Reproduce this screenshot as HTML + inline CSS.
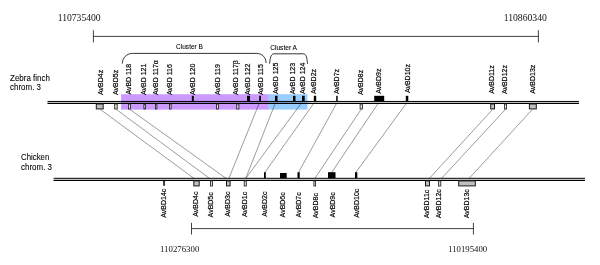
<!DOCTYPE html>
<html><head><meta charset="utf-8"><title>Figure</title>
<style>
html,body{margin:0;padding:0;background:#fff;}
svg{display:block}
.s{font-family:"Liberation Sans",Arial,sans-serif;fill:#000;stroke:#000;stroke-width:0.18}
.h{font-family:"Liberation Sans",Arial,sans-serif;fill:#000;stroke:#000;stroke-width:0.07}
.n{font-family:"Liberation Serif","Times New Roman",serif;fill:#111}
</style></head><body>
<svg width="600" height="265" viewBox="0 0 600 265">
<rect width="600" height="265" fill="#fff"/>

<rect x="121.1" y="94.2" width="147.7" height="15.4" fill="#cc99ff"/>
<rect x="268.7" y="94.2" width="38.8" height="15.4" fill="#99ccff"/>
<line x1="100.4" y1="109.5" x2="194.2" y2="178.5" stroke="#222" stroke-width="0.45"/>
<line x1="116.4" y1="109.5" x2="209.7" y2="178.5" stroke="#222" stroke-width="0.45"/>
<line x1="130.0" y1="109.5" x2="226.3" y2="178.5" stroke="#222" stroke-width="0.45"/>
<line x1="259.3" y1="103" x2="228.8" y2="178.5" stroke="#222" stroke-width="0.45"/>
<line x1="275.3" y1="103" x2="245.7" y2="178.5" stroke="#222" stroke-width="0.45"/>
<line x1="301.4" y1="103" x2="245.7" y2="178.5" stroke="#222" stroke-width="0.45"/>
<line x1="314.0" y1="103" x2="265.0" y2="172.3" stroke="#222" stroke-width="0.45"/>
<line x1="336.8" y1="103" x2="298.6" y2="172.3" stroke="#222" stroke-width="0.45"/>
<line x1="361" y1="109.5" x2="314.8" y2="178.5" stroke="#222" stroke-width="0.45"/>
<line x1="378.4" y1="103" x2="331.8" y2="172.3" stroke="#222" stroke-width="0.45"/>
<line x1="406.6" y1="103" x2="355.9" y2="172.3" stroke="#222" stroke-width="0.45"/>
<line x1="492.5" y1="109.5" x2="429.3" y2="178.5" stroke="#222" stroke-width="0.45"/>
<line x1="505.3" y1="109.5" x2="441.5" y2="178.5" stroke="#222" stroke-width="0.45"/>
<line x1="532.3" y1="109.5" x2="469.0" y2="178.5" stroke="#222" stroke-width="0.45"/>
<line x1="47.5" y1="101.45" x2="579" y2="101.45" stroke="#000" stroke-width="1"/>
<line x1="47.5" y1="103.3" x2="579" y2="103.3" stroke="#000" stroke-width="1.15"/>
<line x1="53.6" y1="178.3" x2="585" y2="178.3" stroke="#000" stroke-width="1"/>
<line x1="53.6" y1="180.3" x2="585" y2="180.3" stroke="#000" stroke-width="1.15"/>
<rect x="96.30" y="104.0" width="6.90" height="4.90" fill="#c0c0c0" stroke="#1a1a1a" stroke-width="1.0"/>
<text class="s" font-size="7" transform="translate(102.95,95) rotate(-90) scale(1,1.06)">AvBD4z</text>
<rect x="114.70" y="104.0" width="2.50" height="5.00" fill="#dcdcdc" stroke="#1a1a1a" stroke-width="0.8"/>
<text class="s" font-size="7" transform="translate(118.45,95) rotate(-90) scale(1,1.06)">AvBD5z</text>
<rect x="128.40" y="104.0" width="2.00" height="5.00" fill="#dcdcdc" stroke="#1a1a1a" stroke-width="0.8"/>
<text class="s" font-size="7" transform="translate(130.75,94.6) rotate(-90) scale(1,1.06)">AvBD 118</text>
<rect x="143.90" y="104.0" width="1.70" height="5.00" fill="#dcdcdc" stroke="#1a1a1a" stroke-width="0.8"/>
<text class="s" font-size="7" transform="translate(146.05,95) rotate(-90) scale(1,1.06)">AvBD 121</text>
<rect x="155.40" y="104.0" width="1.50" height="5.00" fill="#dcdcdc" stroke="#1a1a1a" stroke-width="0.8"/>
<text class="s" font-size="7" transform="translate(157.55,95) rotate(-90) scale(1,1.06)">AvBD 117α</text>
<rect x="169.40" y="104.0" width="1.70" height="5.00" fill="#dcdcdc" stroke="#1a1a1a" stroke-width="0.8"/>
<text class="s" font-size="7" transform="translate(172.35,95) rotate(-90) scale(1,1.06)">AvBD 116</text>
<rect x="191.80" y="95.8" width="2.00" height="5.4" fill="#000"/>
<text class="s" font-size="7" transform="translate(194.55,95) rotate(-90) scale(1,1.06)">AvBD 120</text>
<rect x="216.40" y="104.0" width="2.20" height="5.00" fill="#dcdcdc" stroke="#1a1a1a" stroke-width="0.8"/>
<text class="s" font-size="7" transform="translate(219.55,95) rotate(-90) scale(1,1.06)">AvBD 119</text>
<rect x="236.70" y="104.0" width="2.20" height="5.00" fill="#dcdcdc" stroke="#1a1a1a" stroke-width="0.8"/>
<text class="s" font-size="7" transform="translate(238.45,95) rotate(-90) scale(1,1.06)">AvBD 117β</text>
<rect x="247.00" y="95.8" width="3.00" height="5.4" fill="#000"/>
<text class="s" font-size="7" transform="translate(249.65,95) rotate(-90) scale(1,1.06)">AvBD 122</text>
<rect x="259.20" y="95.8" width="1.80" height="5.4" fill="#000"/>
<text class="s" font-size="7" transform="translate(262.95,95) rotate(-90) scale(1,1.06)">AvBD 115</text>
<rect x="275.00" y="95.8" width="2.50" height="5.4" fill="#000"/>
<text class="s" font-size="7" transform="translate(278.45,94) rotate(-90) scale(1,1.06)">AvBD 125</text>
<rect x="293.00" y="95.8" width="2.50" height="5.4" fill="#000"/>
<text class="s" font-size="7" transform="translate(295.45,94.3) rotate(-90) scale(1,1.06)">AvBD 123</text>
<rect x="302.00" y="95.8" width="2.70" height="5.4" fill="#000"/>
<text class="s" font-size="7" transform="translate(305.15,94) rotate(-90) scale(1,1.06)">AvBD 124</text>
<rect x="313.80" y="95.8" width="2.40" height="5.4" fill="#000"/>
<text class="s" font-size="7" transform="translate(316.35,94.1) rotate(-90) scale(1,1.06)">AvBD2z</text>
<rect x="336.20" y="95.8" width="1.50" height="5.4" fill="#000"/>
<text class="s" font-size="7" transform="translate(338.75,94.1) rotate(-90) scale(1,1.06)">AvBD7z</text>
<rect x="360.10" y="104.0" width="2.30" height="5.00" fill="#dcdcdc" stroke="#1a1a1a" stroke-width="0.8"/>
<text class="s" font-size="7" transform="translate(362.75,95) rotate(-90) scale(1,1.06)">AvBD8z</text>
<rect x="374.20" y="95.8" width="10.00" height="5.4" fill="#000"/>
<text class="s" font-size="7" transform="translate(381.15,93.7) rotate(-90) scale(1,1.06)">AvBD9z</text>
<rect x="405.80" y="95.8" width="2.50" height="5.4" fill="#000"/>
<text class="s" font-size="7" transform="translate(410.25,93.1) rotate(-90) scale(1,1.06)">AvBD10z</text>
<rect x="490.70" y="104.0" width="3.80" height="4.90" fill="#c0c0c0" stroke="#1a1a1a" stroke-width="1.0"/>
<text class="s" font-size="7" transform="translate(493.55,93.8) rotate(-90) scale(1,1.06)">AvBD11z</text>
<rect x="504.40" y="104.0" width="2.20" height="5.00" fill="#dcdcdc" stroke="#1a1a1a" stroke-width="0.8"/>
<text class="s" font-size="7" transform="translate(506.95,94.1) rotate(-90) scale(1,1.06)">AvBD12z</text>
<rect x="529.40" y="104.0" width="6.90" height="4.90" fill="#c0c0c0" stroke="#1a1a1a" stroke-width="1.0"/>
<text class="s" font-size="7" transform="translate(535.15,93.7) rotate(-90) scale(1,1.06)">AvBD13z</text>
<rect x="163.30" y="180.5" width="1.50" height="5.3" fill="#000"/>
<text class="s" font-size="7" transform="translate(165.95,217.7) rotate(-90) scale(1,1.06)">AvBD14c</text>
<rect x="193.80" y="180.9" width="5.40" height="5.00" fill="#c0c0c0" stroke="#1a1a1a" stroke-width="1.0"/>
<text class="s" font-size="7" transform="translate(198.05,216.7) rotate(-90) scale(1,1.06)">AvBD4c</text>
<rect x="210.40" y="180.9" width="2.20" height="5.10" fill="#dcdcdc" stroke="#1a1a1a" stroke-width="0.8"/>
<text class="s" font-size="7" transform="translate(213.45,217.4) rotate(-90) scale(1,1.06)">AvBD5c</text>
<rect x="226.50" y="180.9" width="3.60" height="5.00" fill="#c0c0c0" stroke="#1a1a1a" stroke-width="1.0"/>
<text class="s" font-size="7" transform="translate(230.25,216.7) rotate(-90) scale(1,1.06)">AvBD3c</text>
<rect x="244.20" y="180.9" width="2.10" height="5.10" fill="#dcdcdc" stroke="#1a1a1a" stroke-width="0.8"/>
<text class="s" font-size="7" transform="translate(247.45,217.0) rotate(-90) scale(1,1.06)">AvBD1c</text>
<rect x="264.00" y="172.2" width="1.80" height="6" fill="#000"/>
<text class="s" font-size="7" transform="translate(267.15,216.7) rotate(-90) scale(1,1.06)">AvBD2c</text>
<rect x="280.00" y="173.0" width="6.70" height="5.2" fill="#000"/>
<text class="s" font-size="7" transform="translate(285.45,217.4) rotate(-90) scale(1,1.06)">AvBD6c</text>
<rect x="297.50" y="172.2" width="2.20" height="6" fill="#000"/>
<text class="s" font-size="7" transform="translate(301.15,217.4) rotate(-90) scale(1,1.06)">AvBD7c</text>
<rect x="313.90" y="180.9" width="1.70" height="5.10" fill="#dcdcdc" stroke="#1a1a1a" stroke-width="0.8"/>
<text class="s" font-size="7" transform="translate(318.05,218.2) rotate(-90) scale(1,1.06)">AvBD8c</text>
<rect x="328.00" y="172.2" width="7.50" height="6" fill="#000"/>
<text class="s" font-size="7" transform="translate(334.55,217.4) rotate(-90) scale(1,1.06)">AvBD9c</text>
<rect x="355.00" y="172.2" width="2.30" height="6" fill="#000"/>
<text class="s" font-size="7" transform="translate(359.15,217.7) rotate(-90) scale(1,1.06)">AvBD10c</text>
<rect x="425.50" y="180.9" width="4.00" height="5.00" fill="#c0c0c0" stroke="#1a1a1a" stroke-width="1.0"/>
<text class="s" font-size="7" transform="translate(429.45,218.2) rotate(-90) scale(1,1.06)">AvBD11c</text>
<rect x="438.40" y="180.9" width="2.40" height="5.10" fill="#dcdcdc" stroke="#1a1a1a" stroke-width="0.8"/>
<text class="s" font-size="7" transform="translate(440.75,218.2) rotate(-90) scale(1,1.06)">AvBD12c</text>
<rect x="458.70" y="180.9" width="16.60" height="5.00" fill="#c0c0c0" stroke="#1a1a1a" stroke-width="1.0"/>
<text class="s" font-size="7" transform="translate(469.05,218.2) rotate(-90) scale(1,1.06)">AvBD13c</text>
<path d="M93.4 30.2V42.4M93.4 36.4H538.4M538.4 30.2V42.4" fill="none" stroke="#111" stroke-width="0.8"/>
<path d="M191.5 222.8V234.5M191.5 228.6H473.4M473.4 222.8V234.5" fill="none" stroke="#111" stroke-width="0.8"/>
<text class="n" font-size="9.5" x="57.7" y="20.5" textLength="43.0" lengthAdjust="spacingAndGlyphs">110735400</text>
<text class="n" font-size="9.5" x="503.7" y="20.5" textLength="43.2" lengthAdjust="spacingAndGlyphs">110860340</text>
<text class="n" font-size="8.8" x="160.0" y="251.5" textLength="39.3" lengthAdjust="spacingAndGlyphs">110276300</text>
<text class="n" font-size="8.8" x="448.2" y="251.6" textLength="39" lengthAdjust="spacingAndGlyphs">110195400</text>
<text class="h" font-size="8.3" x="10" y="80.6" textLength="40" lengthAdjust="spacingAndGlyphs">Zebra finch</text>
<text class="h" font-size="8.3" x="10" y="89.6" textLength="31" lengthAdjust="spacingAndGlyphs">chrom. 3</text>
<text class="h" font-size="8.3" x="21" y="160" textLength="28.3" lengthAdjust="spacingAndGlyphs">Chicken</text>
<text class="h" font-size="8.3" x="21" y="169.7" textLength="31" lengthAdjust="spacingAndGlyphs">chrom. 3</text>
<text class="h" font-size="6.5" x="176.1" y="48.8" textLength="26.8" lengthAdjust="spacingAndGlyphs">Cluster B</text>
<text class="h" font-size="6.5" x="270.2" y="49.6" textLength="26.8" lengthAdjust="spacingAndGlyphs">Cluster A</text>
<path d="M122.3 63.6C122.3 58 126.8 53.4 132.5 53.4H256.8C262 53.4 266.1 57.5 266.1 62.9" fill="none" stroke="#000" stroke-width="0.8"/>
<path d="M269.6 63.6C269.9 59.5 270.6 56.5 271.6 55.2C272.2 54.3 273 53.8 274 53.8H303.2C304.8 53.8 305.8 54.8 306.4 56.8C306.9 58.6 307.3 61 307.5 63.8" fill="none" stroke="#000" stroke-width="0.8"/>
</svg></body></html>
